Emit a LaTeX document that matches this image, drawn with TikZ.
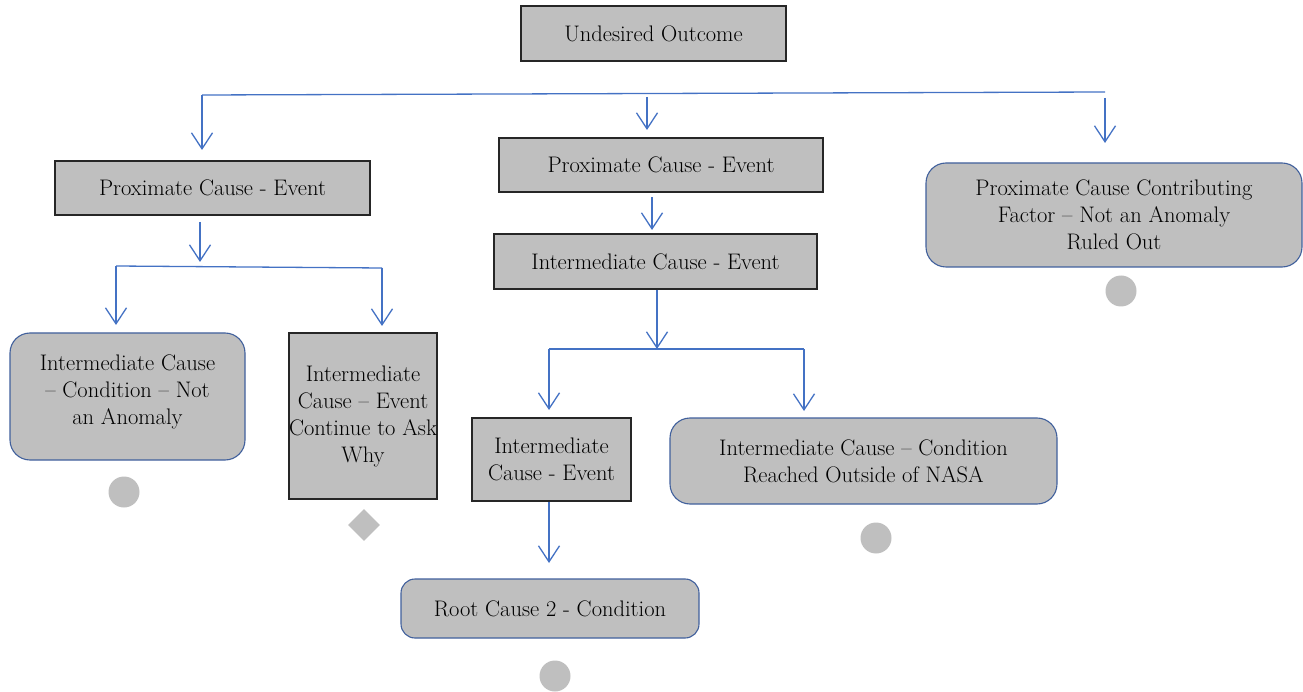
\documentclass[tikz,border=0pt]{standalone}
\usepackage{fontspec}
\usetikzlibrary{arrows.meta,shapes.geometric}
\definecolor{boxgray}{HTML}{BFBFBF}
\definecolor{edgeblue}{HTML}{4472C4}
\definecolor{roundblue}{HTML}{41609C}
\definecolor{darkedge}{HTML}{262626}
\tikzset{
  sqbox/.style={draw=darkedge, line width=1.3pt, fill=boxgray, align=center, inner sep=1pt,
    font=\fontsize{22.5}{27}\selectfont},
  rdbox/.style={draw=roundblue, line width=1.1pt, fill=boxgray, rounded corners=20pt, align=center, inner sep=2pt,
    font=\fontsize{22.5}{27}\selectfont},
  conn/.style={draw=edgeblue, line width=1.3pt},
  arr/.style={conn, -{Straight Barb[length=16pt,width=21pt,line width=1.3pt]}},
  dot/.style={circle, fill=boxgray, minimum size=31pt, inner sep=0pt},
  gem/.style={diamond, fill=boxgray, minimum size=32pt, inner sep=0pt, aspect=1},
}
\begin{document}
\begin{tikzpicture}[x=1pt,y=-1pt]
\useasboundingbox (0,0) rectangle (1303,692);
% boxes
\node[sqbox, minimum width=265pt, minimum height=55pt] (top) at (653.5,33.5) {Undesired Outcome};
\node[sqbox, minimum width=315pt, minimum height=54pt] (pL) at (212.5,188) {Proximate Cause - Event};
\node[sqbox, minimum width=324pt, minimum height=54pt] (pM) at (661,165) {Proximate Cause - Event};
\node[sqbox, minimum width=323pt, minimum height=55pt] (iM) at (655.5,261.5) {Intermediate Cause - Event};
\node[rdbox, minimum width=376pt, minimum height=104pt] (pR) at (1114,215) {Proximate Cause Contributing\\Factor – Not an Anomaly\\Ruled Out};
\node[rdbox, minimum width=235pt, minimum height=127pt] (iL) at (127.5,396.5) {Intermediate Cause\\– Condition – Not\\an Anomaly\\[-13pt]\mbox{}};
\node[sqbox, minimum width=148pt, minimum height=166pt, inner sep=0pt] (iE) at (363,416) {Intermediate\\Cause – Event\\\makebox[144pt][c]{Continue to Ask}\\Why};
\node[sqbox, minimum width=159pt, minimum height=83pt] (iS) at (551.5,459.5) {Intermediate\\Cause - Event};
\node[rdbox, minimum width=387pt, minimum height=86pt] (nasa) at (863.5,461) {Intermediate Cause – Condition\\Reached Outside of NASA};
\node[rdbox, minimum width=298pt, minimum height=59pt, rounded corners=14pt] (root) at (550,608.5) {Root Cause 2 - Condition};
% markers
\node[dot] (d1) at (124,492) {};
\node[gem] (g1) at (364,525) {};
\node[dot] (d2) at (876,538) {};
\node[dot] (d3) at (1121,291) {};
\node[dot] (d4) at (555,676) {};
% top level connectors
\coordinate (hL) at (202,95);
\coordinate (hR) at (1105,92);
\coordinate (aL) at (202,150);
\coordinate (mS) at (647,97);
\coordinate (mE) at (647,130);
\coordinate (rS) at (1105,98);
\coordinate (rE) at (1105,143);
\draw[conn] (hR) -- (hL);
\draw[arr] (hL) -- (aL);
\draw[arr] (mS) -- (mE);
\draw[arr] (rS) -- (rE);
% left branch
\coordinate (lS) at (200,222);
\coordinate (lE) at (200,262);
\coordinate (lA) at (116,266);
\coordinate (lB) at (382,268);
\coordinate (lAe) at (116,325);
\coordinate (lBe) at (382,326);
\draw[arr] (lS) -- (lE);
\draw[conn] (lB) -- (lA);
\draw[arr] (lA) -- (lAe);
\draw[arr] (lB) -- (lBe);
% middle branch
\coordinate (m2S) at (652,197);
\coordinate (m2E) at (652,230);
\draw[arr] (m2S) -- (m2E);
\coordinate (m3E) at (657,349);
\draw[arr] (iM.south -| m3E) -- (m3E);
\coordinate (mA) at (549,349);
\coordinate (mB) at (804,349);
\coordinate (mAe) at (549,410);
\coordinate (mBe) at (804,411);
\draw[conn] (mA) -- (mB);
\draw[arr] (mA) -- (mAe);
\draw[arr] (mB) -- (mBe);
\coordinate (sE) at (549,563);
\draw[arr] (iS.south -| sE) -- (sE);
\end{tikzpicture}
\end{document}
